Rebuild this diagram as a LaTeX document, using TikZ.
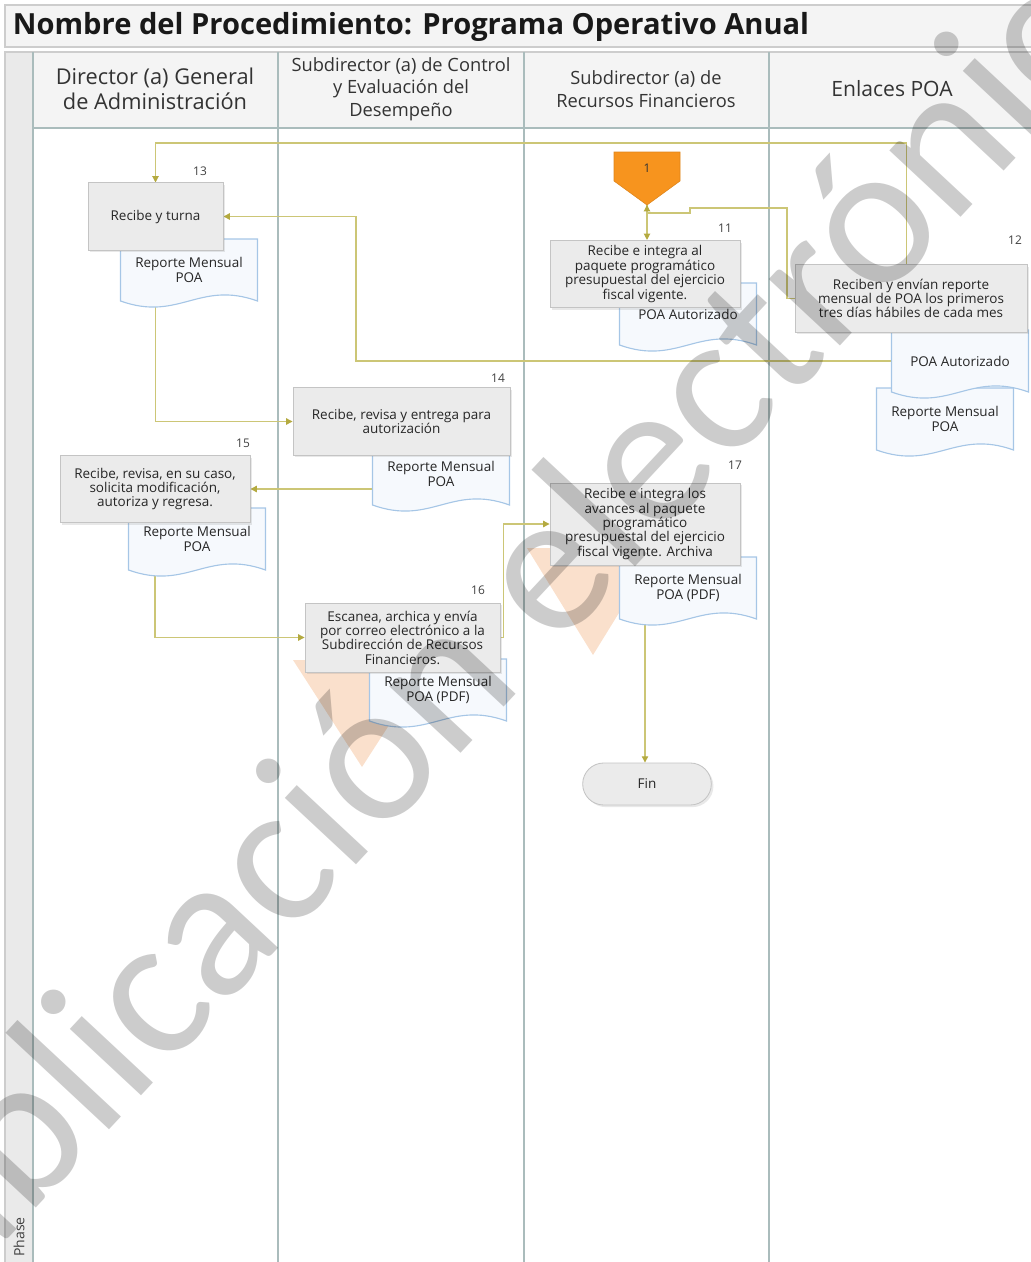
\documentclass[tikz,border=0pt]{standalone}
\usepackage{fontspec}
\setmainfont{Open Sans}
\newfontfamily\markfont{Carlito}
\usepackage{tikz}
\usetikzlibrary{arrows.meta,shadows,shapes.misc,backgrounds}
\usepackage{xcolor}
\definecolor{lanecol}{RGB}{170,188,188}
\definecolor{headfill}{RGB}{244,244,244}
\definecolor{phasefill}{RGB}{234,234,234}
\definecolor{framecol}{RGB}{205,205,205}
\definecolor{flowcol}{RGB}{204,198,118}
\definecolor{tipcol}{RGB}{180,170,64}
\definecolor{boxfill}{RGB}{235,235,235}
\definecolor{boxline}{RGB}{196,196,196}
\definecolor{docfill}{RGB}{246,249,253}
\definecolor{docline}{RGB}{166,198,230}
\definecolor{offcol}{RGB}{247,148,30}
\definecolor{fadecol}{RGB}{250,224,204}
\pgfdeclarelayer{lanes}
\pgfdeclarelayer{links}
\pgfsetlayers{lanes,links,main}
\tikzset{
  % swimlane border
  laneline/.style={draw=lanecol, line width=1.3pt},
  % header cell text
  headtext/.style={align=center, text=black!80, font=\fontsize{13}{16}\selectfont},
  % process box
  task/.style={rectangle, draw=boxline, fill=boxfill, line width=0.6pt, align=center,
               minimum height=1.68cm, inner sep=1pt, text=black!85,
               font=\fontsize{9.6}{10.2}\selectfont,
               drop shadow={opacity=0.18, shadow xshift=1.5pt, shadow yshift=-1.5pt}},
  % document outline
  docbody/.style={draw=docline, fill=docfill, line width=0.8pt},
  % document text holder
  doctext/.style={rectangle, minimum width=3.425cm, minimum height=1.55cm, inner sep=0pt,
                  align=center, text=black!85, font=\fontsize{9.6}{10.8}\selectfont},
  % step number
  stepnum/.style={font=\fontsize{8.5}{9}\selectfont, text=black!75},
  % connector
  flow/.style={draw=flowcol, line width=0.8pt, -{Triangle[length=4.5pt,width=4.5pt,color=tipcol]}},
  % end terminator
  terminal/.style={rounded rectangle, draw=boxline, fill=boxfill, line width=0.6pt,
                   minimum width=3.45cm, minimum height=1.05cm, text=black!85,
                   font=\fontsize{9.6}{10}\selectfont,
                   drop shadow={opacity=0.18, shadow xshift=1.5pt, shadow yshift=-1.5pt}},
  % faded marker
  fadetri/.style={fill=fadecol},
  % background watermark
  watermark/.style={text=black, text opacity=0.2, font=\markfont\fontsize{145}{145}\selectfont},
}

% document with a wavy bottom: name, centre, text
\newcommand{\docnode}[3]{%
  \begin{scope}[shift={(#2)}]
    \filldraw[docbody] (-68.5,-31) -- (68.5,-31) -- (68.5,31)
      .. controls (10,10) and (-10,52) .. (-68.5,31) -- cycle;
  \end{scope}
  \node[doctext] (#1) at (#2) {#3};
}

\begin{document}
\begin{tikzpicture}[x=0.025cm, y=-0.025cm]
  \useasboundingbox (0,0) rectangle (1031,1262);
  \clip (0,0) rectangle (1031,1262);

  % frame and lanes
  \begin{pgfonlayer}{lanes}
    \filldraw[fill=headfill, draw=framecol, line width=0.8pt] (5,5) rectangle (1045,47);
    \filldraw[fill=phasefill, draw=framecol, line width=0.8pt] (5,52) rectangle (33,1270);
    \filldraw[fill=headfill, draw=framecol, line width=0.8pt] (33,52) rectangle (1045,128);
    \foreach \x in {33,278,524,769}
      \draw[laneline] (\x,52) -- (\x,1270);
    \draw[laneline] (33,128) -- (1045,128);
  \end{pgfonlayer}

  \node[anchor=west, text=black!90, font=\fontsize{20.7}{24}\selectfont\bfseries] (title) at (8,27)
    {Nombre del Procedimiento: Programa Operativo Anual};
  \node[headtext, font=\fontsize{15.5}{17.5}\selectfont] (h1) at (155,89) {Director (a) General\\de Administración};
  \node[headtext] (h2) at (401,89) {Subdirector (a) de Control\\y Evaluación del\\Desempeño};
  \node[headtext] (h3) at (646,89) {Subdirector (a) de\\Recursos Financieros};
  \node[headtext, font=\fontsize{15}{17}\selectfont] (h4) at (892,89) {Enlaces POA};
  \node[rotate=90, text=black!75, font=\fontsize{10}{12}\selectfont] (phase) at (19,1237) {Phase};

  % off-page connector
  \filldraw[fill=offcol, draw=offcol!90!black, line width=0.4pt]
    (614,152) -- (680,152) -- (680,181) -- (647,205) -- (614,181) -- cycle;
  \node[stepnum, text=black!80] (c1) at (647,168) {1};
  \coordinate (c1tip) at (647,205);

  % faded markers
  \fill[fadetri] (293,660) -- (431,660) -- (362,767) -- cycle;
  \fill[fadetri] (527,548) -- (659,548) -- (593,655) -- cycle;

  % documents
  \docnode{d13}{189,270}{Reporte Mensual\\POA}
  \docnode{d11}{688,314}{POA Autorizado}
  \docnode{d12b}{945,419}{Reporte Mensual\\POA}
  \docnode{d12a}{960,361}{POA Autorizado}
  \docnode{d14}{441,474}{Reporte Mensual\\POA}
  \docnode{d15}{197,539}{Reporte Mensual\\POA}
  \docnode{d16}{438,690}{Reporte Mensual\\POA (PDF)}
  \docnode{d17}{688,588}{Reporte Mensual\\POA (PDF)}

  % process steps
  \node[task, minimum width=3.375cm] (b13) at (155.5,216.5) {Recibe y turna};
  \node[task, minimum width=4.75cm] (b11) at (645,274)
    {Recibe e integra al\\paquete programático\\presupuestal del ejercicio\\fiscal vigente.};
  \node[task, minimum width=5.8cm] (b12) at (911,298.5)
    {Reciben y envían reporte\\mensual de POA los primeros\\tres días hábiles de cada mes};
  \node[task, minimum width=5.425cm] (b14) at (401.5,421.5)
    {Recibe, revisa y entrega para\\autorización};
  \node[task, minimum width=4.75cm] (b15) at (155,489)
    {Recibe, revisa, en su caso,\\solicita modificación,\\autoriza y regresa.};
  \node[task, minimum width=4.875cm, minimum height=1.725cm] (b16) at (402.5,637.5)
    {Escanea, archica y envía\\por correo electrónico a la\\Subdirección de Recursos\\Financieros.};
  \node[task, minimum width=4.75cm, minimum height=2.05cm] (b17) at (645,524)
    {Recibe e integra los\\avances al paquete\\programático\\presupuestal del ejercicio\\fiscal vigente. Archiva};
  \node[terminal] (fin) at (647,784) {Fin};

  % step numbers
  \node[stepnum] (n13) at (200,171) {13};
  \node[stepnum] (n11) at (725,228) {11};
  \node[stepnum] (n12) at (1015,240) {12};
  \node[stepnum] (n14) at (498,378) {14};
  \node[stepnum] (n15) at (243,443) {15};
  \node[stepnum] (n16) at (478,590) {16};
  \node[stepnum] (n17) at (735,465) {17};

  % connectors
  \coordinate (j1) at (787,208);
  \coordinate (j2) at (690,208);
  \coordinate (j3) at (690,213);
  \coordinate (j4) at (0,143);
  \coordinate (j5) at (356,0);
  \begin{pgfonlayer}{links}
    \draw[flow] (c1tip) -- (c1tip |- b11.north);
    \draw[flow] (b12.west) -| (j1) -- (j2) -- (j3) -| (c1tip);
    \draw[flow] ([xshift=-3pt]b12.north) |- (b13.north |- j4) -- (b13.north);
    \draw[flow] (d12a.west) -| (j5 |- b13.east) -- (b13.east);
    \draw[flow] (b13.south) |- (b14.west);
    \draw[flow] (d14.west |- b15.east) -- (b15.east);
    \draw[flow] (b15.south) |- (b16.west);
    \draw[flow] (b16.east) -- ++(3,0) |- (b17.west);
    \draw[flow] (b17.south) -- (b17.south |- fin.north);
  \end{pgfonlayer}

  \node[watermark, rotate=47] (mark) at (480,630) {Publicación electrónica};
\end{tikzpicture}
\end{document}
